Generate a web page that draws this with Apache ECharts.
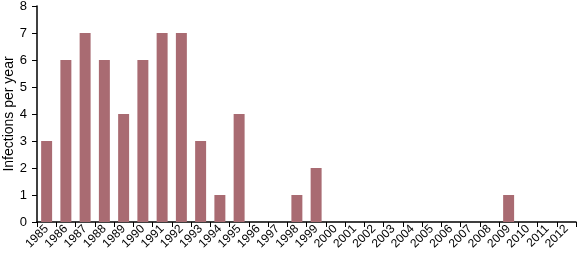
<!DOCTYPE html>
<html><head><meta charset="utf-8">
<script src="https://cdn.jsdelivr.net/npm/echarts@6/dist/echarts.min.js"></script>
<style>html,body{margin:0;padding:0;background:#fff}#c{width:577px;height:259px}</style>
</head><body><div id="c"></div>
<script>
const years = ['1985','1986','1987','1988','1989','1990','1991','1992','1993','1994','1995','1996','1997','1998','1999','2000','2001','2002','2003','2004','2005','2006','2007','2008','2009','2010','2011','2012'];
const infections = [3,6,7,6,4,6,7,7,3,1,4,0,0,1,2,0,0,0,0,0,0,0,0,0,1,0,0,0];
const yTicks = [0,1,2,3,4,5,6,7,8];
const chart = echarts.init(document.getElementById('c'));
chart.setOption({
  animation:false,
  grid:{left:37,right:1,top:6,bottom:37,containLabel:false,outerBoundsMode:'none'},
  xAxis:{type:'category',data:years,
    axisLine:{lineStyle:{color:'#000',width:1.5}},
    axisTick:{show:true,alignWithLabel:false,length:5,lineStyle:{color:'#000'}},
    axisLabel:{rotate:45,interval:0,color:'#000',fontSize:12,fontFamily:'Liberation Sans, Arial',margin:5}},
  yAxis:{type:'value',min:0,max:8,interval:1,
    name:'Infections per year',nameLocation:'middle',nameGap:21,nameMoveOverlap:false,
    nameTextStyle:{color:'#000',fontSize:14,fontFamily:'Liberation Sans, Arial'},
    axisLine:{show:true,lineStyle:{color:'#000',width:1.5}},
    axisTick:{show:true,length:5,lineStyle:{color:'#000'}},
    splitLine:{show:false},
    axisLabel:{color:'#000',fontSize:13,fontFamily:'Liberation Sans, Arial',margin:10,
      formatter:v=>yTicks.includes(v)?String(v):''}},
  series:[{type:'bar',data:infections,barWidth:'57%',itemStyle:{color:'#a96b72'}}]
});
</script></body></html>
